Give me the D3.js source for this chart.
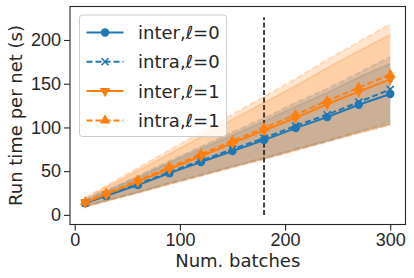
<!DOCTYPE html>
<html>
<head>
<meta charset="utf-8">
<script src="https://cdn.jsdelivr.net/npm/d3@7"></script>
<style>
  body { margin: 0; background: #fff; }
  svg { display: block; font-family: "DejaVu Sans", sans-serif; }
  .tick text { font-size: 18px; fill: #262626; }
</style>
</head>
<body>
<div id="chart"></div>
<script>
// Data
const batches = [10, 30, 60, 90, 120, 150, 180, 210, 240, 270, 300];

const inter0 = [13.4, 21.7, 34, 47.7, 60.3, 73, 85.5, 99.2, 111.8, 125.9, 138.2];
const inter0Hi = [16.8, 27.1, 42.5, 59.6, 75.4, 91.3, 106.9, 124, 139.8, 157.4, 172.8];
const inter0Lo = [10.1, 16.3, 25.5, 35.8, 45.2, 54.8, 64.1, 74.4, 83.9, 94.4, 103.7];

const intra0 = [13.8, 22.3, 35.2, 49, 62, 75.2, 87.8, 101.8, 114.5, 129, 143.5];
const intra0Hi = [17.4, 28.1, 44.4, 61.7, 78.1, 94.8, 110.6, 128.3, 144.3, 162.5, 180.8];
const intra0Lo = [10.2, 16.5, 26, 36.3, 45.9, 55.6, 65, 75.3, 84.7, 95.5, 106.2];

const inter1 = [14, 23.5, 38, 52.5, 67, 82, 96.5, 111, 126.5, 141, 155];
const inter1Hi = [18.6, 31.3, 50.5, 69.8, 89.1, 109.1, 128.3, 147.6, 168.2, 187.5, 206.2];
const inter1Lo = [9.4, 15.7, 25.5, 35.2, 44.9, 54.9, 64.7, 74.4, 84.8, 94.5, 103.9];

const intra1 = [14.5, 24.5, 39.5, 54.5, 69.5, 84.5, 99.5, 114.5, 130.5, 145.5, 160.5];
const intra1Hi = [19.7, 33.3, 53.7, 74.1, 94.5, 114.9, 135.3, 155.7, 177.5, 197.9, 218.3];
const intra1Lo = [9.3, 15.7, 25.3, 34.9, 44.5, 54.1, 63.7, 73.3, 83.5, 93.1, 102.7];

const seriesNames = ["inter,ℓ=0", "intra,ℓ=0", "inter,ℓ=1", "intra,ℓ=1"];
const xTicks = [0, 100, 200, 300];
const yTicks = [0, 50, 100, 150, 200];
const vlineX = 180;
const vlineY = [0, 226];

const series = [
  { name: seriesNames[0], mean: inter0, hi: inter0Hi, lo: inter0Lo, color: "#1f77b4", dashed: false, marker: "circle" },
  { name: seriesNames[1], mean: intra0, hi: intra0Hi, lo: intra0Lo, color: "#1f77b4", dashed: true, marker: "x" },
  { name: seriesNames[2], mean: inter1, hi: inter1Hi, lo: inter1Lo, color: "#ff7f0e", dashed: false, marker: "down" },
  { name: seriesNames[3], mean: intra1, hi: intra1Hi, lo: intra1Lo, color: "#ff7f0e", dashed: true, marker: "up" },
];

const W = 414, H = 278;
const margin = { top: 6.5, right: 8.5, bottom: 53.5, left: 70 };
const width = W - margin.left - margin.right;
const height = H - margin.top - margin.bottom;

const x = d3.scaleLinear().domain([-4.5, 314.5]).range([0, width]);
const y = d3.scaleLinear().domain([-11, 238.3]).range([height, 0]);

const svg = d3.select("#chart").append("svg").attr("width", W).attr("height", H);
const g = svg.append("g").attr("transform", `translate(${margin.left},${margin.top})`);

// Bands
const area = d3.area()
  .x((d) => x(d.x))
  .y0((d) => y(d.lo))
  .y1((d) => y(d.hi));
const edge = d3.line().x((d) => x(d.x)).y((d) => y(d.v));

series.forEach((s) => {
  const pts = batches.map((b, i) => ({ x: b, lo: s.lo[i], hi: s.hi[i] }));
  g.append("path")
    .attr("d", area(pts))
    .attr("fill", s.color)
    .attr("fill-opacity", 0.2);
  ["hi", "lo"].forEach((k) => {
    g.append("path")
      .attr("d", edge(pts.map((p) => ({ x: p.x, v: p[k] }))))
      .attr("fill", "none")
      .attr("stroke", s.color)
      .attr("stroke-opacity", 0.2)
      .attr("stroke-width", 2)
      .attr("stroke-dasharray", s.dashed ? "6,3" : null);
  });
});

// Vertical marker
g.append("line")
  .attr("x1", x(vlineX)).attr("x2", x(vlineX))
  .attr("y1", y(vlineY[0])).attr("y2", y(vlineY[1]))
  .attr("stroke", "#222")
  .attr("stroke-opacity", 0.85)
  .attr("stroke-width", 2)
  .attr("stroke-dasharray", "5,2.5");

function drawMarker(sel, type, color) {
  if (type === "circle") {
    sel.append("circle").attr("r", 4.2).attr("fill", color);
  } else if (type === "x") {
    sel.append("path")
      .attr("d", "M-3.5,-3.5L3.5,3.5M-3.5,3.5L3.5,-3.5")
      .attr("stroke", color).attr("stroke-width", 1.6);
  } else {
    sel.append("path")
      .attr("d", d3.symbol(d3.symbolTriangle, 48)())
      .attr("transform", type === "down" ? "rotate(180)" : null)
      .attr("fill", color);
  }
}

// Lines + markers
const line = d3.line().x((d) => x(d.x)).y((d) => y(d.v));
series.forEach((s) => {
  const pts = batches.map((b, i) => ({ x: b, v: s.mean[i] }));
  g.append("path")
    .attr("d", line(pts))
    .attr("fill", "none")
    .attr("stroke", s.color)
    .attr("stroke-width", 2)
    .attr("stroke-dasharray", s.dashed ? "6,3" : null);
  pts.forEach((p) => {
    const m = g.append("g").attr("transform", `translate(${x(p.x)},${y(p.v)})`);
    drawMarker(m, s.marker, s.color);
  });
});

// Axes
const gx = g.append("g")
  .attr("transform", `translate(0,${height})`)
  .call(d3.axisBottom(x).tickValues(xTicks).tickSize(6).tickPadding(3));
const gy = g.append("g")
  .call(d3.axisLeft(y).tickValues(yTicks).tickSize(6).tickPadding(3));
[gx, gy].forEach((a) => {
  a.select(".domain").remove();
  a.selectAll(".tick line").attr("stroke", "#262626").attr("stroke-width", 1.1);
});

g.append("rect")
  .attr("width", width).attr("height", height)
  .attr("fill", "none").attr("stroke", "#262626").attr("stroke-width", 1.1);

svg.append("text")
  .attr("x", margin.left + width / 2).attr("y", 267)
  .attr("text-anchor", "middle")
  .attr("font-size", 18).attr("fill", "#262626")
  .text("Num. batches");
svg.append("text")
  .attr("transform", `translate(22,${margin.top + height / 2}) rotate(-90)`)
  .attr("text-anchor", "middle")
  .attr("font-size", 18).attr("fill", "#262626")
  .text("Run time per net (s)");

// Legend
const legend = g.append("g").attr("transform", "translate(9.5,8.5)");
legend.append("rect")
  .attr("width", 147).attr("height", 121.5).attr("rx", 3)
  .attr("fill", "#fff").attr("fill-opacity", 0.8)
  .attr("stroke", "#ccc").attr("stroke-width", 1);
series.forEach((s, i) => {
  const row = legend.append("g").attr("transform", `translate(0,${17.5 + i * 29.3})`);
  row.append("line")
    .attr("x1", 7).attr("x2", 44).attr("y1", 0).attr("y2", 0)
    .attr("stroke", s.color).attr("stroke-width", 2)
    .attr("stroke-dasharray", s.dashed ? "6,3" : null);
  drawMarker(row.append("g").attr("transform", "translate(25.5,0)"), s.marker, s.color);
  row.append("text")
    .attr("x", 58.5).attr("y", 6.5)
    .attr("font-size", 18).attr("fill", "#262626")
    .text(s.name);
});
</script>
</body>
</html>
